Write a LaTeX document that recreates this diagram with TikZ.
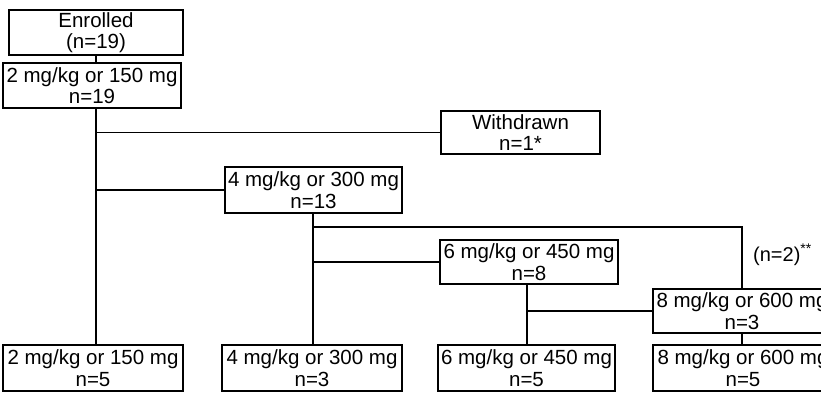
\documentclass[tikz,border=0pt]{standalone}
\usepackage{fontspec}
\setmainfont{Liberation Sans}
\begin{document}
\begin{tikzpicture}[x=1pt,y=-1pt,
  box/.style={draw=black,line width=1.1pt,inner sep=0pt,align=center,
    font=\fontsize{20.5}{21.5}\selectfont,minimum height=45pt},
  conn/.style={draw=black,line width=1.5pt}]
\useasboundingbox (0,0) rectangle (821,392);
\node[box,minimum width=174pt] (enr) at (96,32.5) {Enrolled\\(n=19)};
\node[box,minimum width=178pt] (d2) at (92,85.5) {2 mg/kg or 150 mg\\n=19};
\node[box,minimum width=159pt,minimum height=43pt] (wd) at (520.5,132.5) {Withdrawn\\n=1*};
\node[box,minimum width=177pt,minimum height=46pt] (d4) at (313.5,190) {4 mg/kg or 300 mg\\n=13};
\node[box,minimum width=178pt,minimum height=44pt] (d6) at (529,262) {6 mg/kg or 450 mg\\n=8};
\node[box,minimum width=178pt,minimum height=44pt] (d8) at (742,311) {8 mg/kg or 600 mg\\n=3};
\node[box,minimum width=180pt,minimum height=46pt] (b2) at (93,368) {2 mg/kg or 150 mg\\n=5};
\node[box,minimum width=180pt,minimum height=46pt] (b4) at (312,368) {4 mg/kg or 300 mg\\n=3};
\node[box,minimum width=177pt,minimum height=46pt] (b6) at (526.5,368) {6 mg/kg or 450 mg\\n=5};
\node[box,minimum width=180pt,minimum height=46pt] (b8) at (743,368) {8 mg/kg or 600 mg\\n=5};
\node[anchor=west,inner sep=0pt,font=\fontsize{20}{21.5}\selectfont] (lab) at (753,255) {(n=2)\textsuperscript{**}};
\coordinate (t1) at (96,0);
\coordinate (t2) at (313,0);
\coordinate (t3) at (527,0);
\coordinate (t4) at (742,0);
\draw[conn] (t1 |- enr.south) -- (t1 |- d2.north);
\draw[conn] (t1 |- d2.south) -- (t1 |- b2.north);
\draw[conn] (t1 |- wd.west) -- (wd.west);
\draw[conn] (t1 |- d4.west) -- (d4.west);
\draw[conn] (t2 |- d4.south) -- (t2 |- b4.north);
\draw[conn] (313,227) -- (742,227) -- (t4 |- d8.north);
\draw[conn] (t2 |- d6.west) -- (d6.west);
\draw[conn] (t3 |- d6.south) -- (t3 |- b6.north);
\draw[conn] (t3 |- d8.west) -- (d8.west);
\draw[conn] (t4 |- d8.south) -- (t4 |- b8.north);
\end{tikzpicture}
\end{document}
